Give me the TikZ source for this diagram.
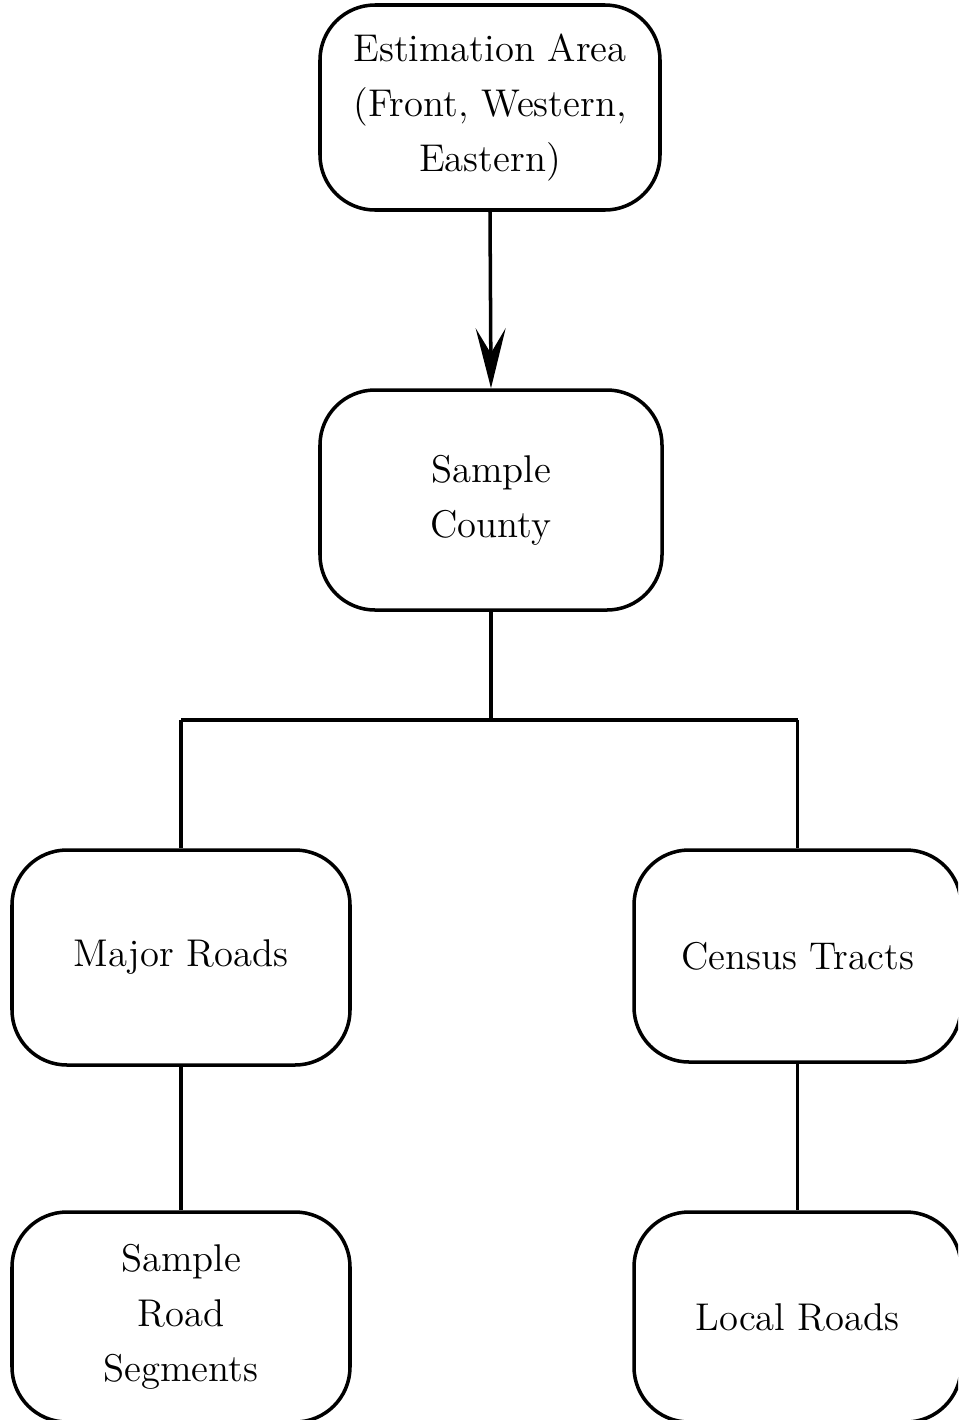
\documentclass[tikz,border=0pt]{standalone}
\usetikzlibrary{arrows.meta}
\begin{document}
\begin{tikzpicture}[x=1cm,y=1cm,
  box/.style={draw, line width=1pt, rounded corners=0.55cm, align=center,
    font=\fontsize{11}{15.6}\selectfont, inner sep=0pt},
  conn/.style={line width=1pt}]
\useasboundingbox (0,0) rectangle (9.58,-14.2);
\clip (0,0) rectangle (9.58,-14.2);
\node[box, minimum width=3.40cm, minimum height=2.05cm] (area) at (4.90,-1.075) {Estimation Area\\(Front, Western,\\Eastern)};
\node[box, minimum width=3.42cm, minimum height=2.20cm] (county) at (4.91,-5.00) {Sample\\County};
\node[box, minimum width=3.38cm, minimum height=2.15cm] (major) at (1.81,-9.575) {Major Roads};
\node[box, minimum width=3.27cm, minimum height=2.12cm] (census) at (7.975,-9.56) {Census Tracts};
\node[box, minimum width=3.38cm, minimum height=2.10cm] (segments) at (1.81,-13.17) {Sample\\Road\\Segments};
\node[box, minimum width=3.27cm, minimum height=2.10cm] (local) at (7.975,-13.17) {Local Roads};
\coordinate (mid) at (county.south |- 0,-7.20);
\coordinate (barL) at (major.north |- mid);
\coordinate (barR) at (census.north |- mid);
\draw[conn, -{Stealth[length=6mm, width=3mm, inset=2.5mm]}] (area.south) -- (county.north);
\draw[conn] (county.south) -- (mid);
\draw[conn] (barL) -- (barR);
\draw[conn] (barL) -- (major.north);
\draw[conn] (barR) -- (census.north);
\draw[conn] (major.south) -- (segments.north);
\draw[conn] (census.south) -- (local.north);
\end{tikzpicture}
\end{document}
